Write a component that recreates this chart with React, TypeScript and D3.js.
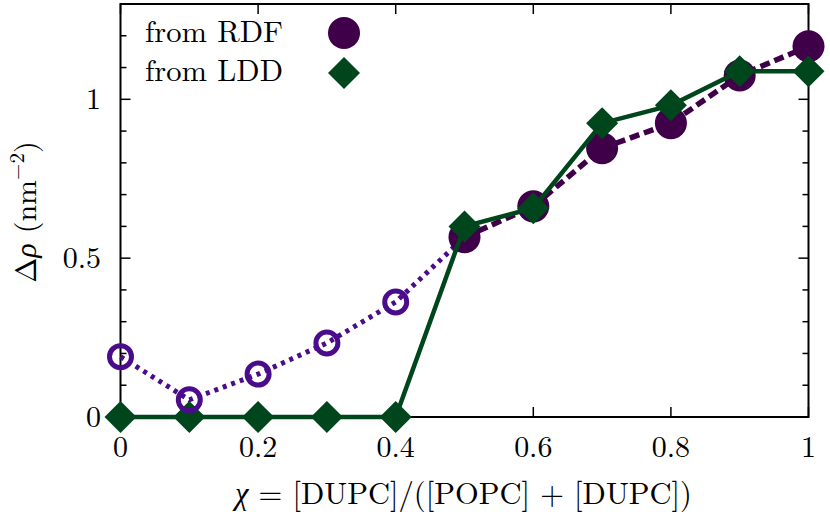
import React from "react";
import * as d3 from "d3";

const chi = [0, 0.1, 0.2, 0.3, 0.4, 0.5, 0.6, 0.7, 0.8, 0.9, 1.0];
const rdf = [0.19, 0.054, 0.135, 0.233, 0.362, 0.566, 0.663, 0.846, 0.925, 1.075, 1.167];
const ldd = [0, 0, 0, 0, 0, 0.6, 0.657, 0.925, 0.981, 1.088, 1.088];
const xTicks = [0, 0.2, 0.4, 0.6, 0.8, 1];
const xTickLabels = ["0", "0.2", "0.4", "0.6", "0.8", "1"];
const yMajor = [0, 0.5, 1];
const yMajorLabels = ["0", "0.5", "1"];
const yMinor = [0.1, 0.2, 0.3, 0.4, 0.6, 0.7, 0.8, 0.9, 1.1, 1.2];
const openCount = 5; // first five RDF points are open circles
const legendLabels = ["from RDF", "from LDD"];

const W = 830, H = 517;
const L = 120.5, R = 808.5, T = 4, B = 417;
const FONT = "'Latin Modern Roman','CMU Serif','Liberation Serif','Times New Roman',serif";
const PURPLE_DARK = "#3f0049";
const PURPLE = "#4b0c8c";
const GREEN = "#00461c";

export default function App() {
  const x = d3.scaleLinear().domain([0, 1]).range([L, R]);
  const y = d3.scaleLinear().domain([0, 1.3]).range([B, T]);
  const pts = (vals: number[]) => chi.map((c, i) => [c, vals[i]] as [number, number]);
  const line = d3.line<[number, number]>().x(d => x(d[0])).y(d => y(d[1]));
  const rdfPts = pts(rdf);
  const lddPts = pts(ldd);
  const dotted = line(rdfPts.slice(0, openCount + 1))!;
  const dashed = line(rdfPts.slice(openCount))!;
  const green = line(lddPts)!;
  const diamond = (cx: number, cy: number, r = 16) =>
    `M${cx},${cy - r}L${cx + r},${cy}L${cx},${cy + r}L${cx - r},${cy}Z`;

  return (
    <svg width={W} height={H} style={{ position: "absolute", left: 0, top: 0 }} fontFamily={FONT}>
      <rect x={0} y={0} width={W} height={H} fill="#fff" />
      {/* ticks */}
      <g stroke="#000" strokeWidth={1.5}>
        {xTicks.map((t, i) => (
          <g key={"xt" + i}>
            <line x1={x(t)} x2={x(t)} y1={B} y2={B - 10} />
            <line x1={x(t)} x2={x(t)} y1={T} y2={T + 10} />
          </g>
        ))}
        {yMajor.map((t, i) => (
          <g key={"ym" + i}>
            <line x1={L} x2={L + 10} y1={y(t)} y2={y(t)} />
            <line x1={R} x2={R - 10} y1={y(t)} y2={y(t)} />
          </g>
        ))}
        {yMinor.map((t, i) => (
          <g key={"yn" + i}>
            <line x1={L} x2={L + 6} y1={y(t)} y2={y(t)} />
            <line x1={R} x2={R - 6} y1={y(t)} y2={y(t)} />
          </g>
        ))}
      </g>
      <rect x={L} y={T} width={R - L} height={B - T} fill="none" stroke="#000" strokeWidth={2} />
      {/* tick labels */}
      <g fontSize={30} fill="#000">
        {xTicks.map((t, i) => (
          <text key={"xl" + i} x={x(t)} y={B + 40} textAnchor="middle">{xTickLabels[i]}</text>
        ))}
        {yMajor.map((t, i) => (
          <text key={"yl" + i} x={101} y={y(t) + 10} textAnchor="end">{yMajorLabels[i]}</text>
        ))}
      </g>
      {/* series */}
      <path d={dotted} fill="none" stroke={PURPLE} strokeWidth={5} strokeDasharray="4,5" />
      <path d={dashed} fill="none" stroke={PURPLE_DARK} strokeWidth={5.5} strokeDasharray="10,5" />
      {rdfPts.slice(openCount).map((p, i) => (
        <circle key={"fc" + i} cx={x(p[0])} cy={y(p[1])} r={16} fill={PURPLE_DARK} />
      ))}
      <path d={green} fill="none" stroke={GREEN} strokeWidth={4.5} />
      {lddPts.map((p, i) => (
        <path key={"dm" + i} d={diamond(x(p[0]), y(p[1]))} fill={GREEN} />
      ))}
      {rdfPts.slice(0, openCount).map((p, i) => (
        <circle key={"oc" + i} cx={x(p[0])} cy={y(p[1])} r={11} fill="none" stroke={PURPLE} strokeWidth={5} />
      ))}
      {/* legend */}
      <g fontSize={30} fill="#000">
        <text x={145} y={42} textLength={138} lengthAdjust="spacingAndGlyphs">{legendLabels[0]}</text>
        <text x={145} y={81} textLength={138} lengthAdjust="spacingAndGlyphs">{legendLabels[1]}</text>
      </g>
      <circle cx={344} cy={33} r={16} fill={PURPLE_DARK} />
      <path d={diamond(344, 73)} fill={GREEN} />
      {/* axis titles */}
      <text x={463.5} y={504} fontSize={31} textAnchor="middle" textLength={457} lengthAdjust="spacingAndGlyphs">
        <tspan fontStyle="italic">χ</tspan> = [DUPC]/([POPC] + [DUPC])
      </text>
      <text transform="translate(36,212) rotate(-90)" fontSize={30} textAnchor="middle">
        Δ<tspan fontStyle="italic">ρ</tspan> (nm<tspan dy={-12} fontSize={21}>−2</tspan><tspan dy={12}>)</tspan>
      </text>
    </svg>
  );
}
